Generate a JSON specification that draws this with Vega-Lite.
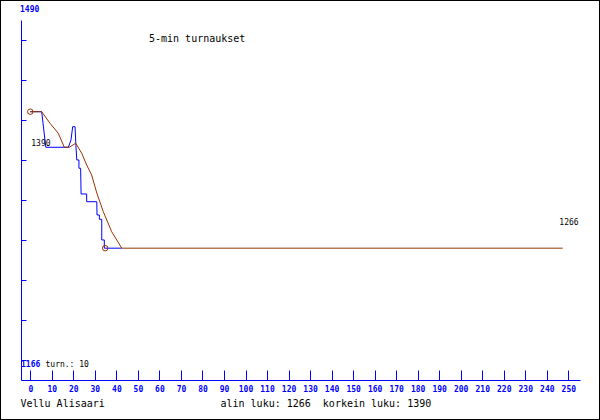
{
  "$schema": "https://vega.github.io/schema/vega-lite/v6.json",
  "width": 600,
  "height": 420,
  "autosize": "none",
  "padding": 0,
  "background": "white",
  "config": {"view": {"stroke": "black", "strokeWidth": 2}, "font": "DejaVu Sans Mono"},
  "title": {"text": "5-min turnaukset", "anchor": "start", "frame": "group", "dx": 149, "offset": -44, "font": "DejaVu Sans Mono", "fontSize": 10, "fontWeight": "normal", "color": "black"},
  "datasets": {
    "sarjat": [
      {"sarja": "tulos", "n": 1, "turnaus": 0, "luku": 1433.7},
      {"sarja": "tulos", "n": 2, "turnaus": 5.3, "luku": 1433.7},
      {"sarja": "tulos", "n": 3, "turnaus": 7.2, "luku": 1390},
      {"sarja": "tulos", "n": 4, "turnaus": 17.7, "luku": 1390},
      {"sarja": "tulos", "n": 5, "turnaus": 18.9, "luku": 1399},
      {"sarja": "tulos", "n": 6, "turnaus": 19.7, "luku": 1415.3},
      {"sarja": "tulos", "n": 7, "turnaus": 20.8, "luku": 1415.3},
      {"sarja": "tulos", "n": 8, "turnaus": 21.2, "luku": 1392},
      {"sarja": "tulos", "n": 9, "turnaus": 21.6, "luku": 1374.4},
      {"sarja": "tulos", "n": 10, "turnaus": 22.6, "luku": 1374.4},
      {"sarja": "tulos", "n": 11, "turnaus": 22.6, "luku": 1364.2},
      {"sarja": "tulos", "n": 12, "turnaus": 23.4, "luku": 1364.2},
      {"sarja": "tulos", "n": 13, "turnaus": 23.6, "luku": 1332.6},
      {"sarja": "tulos", "n": 14, "turnaus": 26.2, "luku": 1332.6},
      {"sarja": "tulos", "n": 15, "turnaus": 26.2, "luku": 1323.1},
      {"sarja": "tulos", "n": 16, "turnaus": 30.9, "luku": 1323.1},
      {"sarja": "tulos", "n": 17, "turnaus": 31.0, "luku": 1306.8},
      {"sarja": "tulos", "n": 18, "turnaus": 32.1, "luku": 1306.8},
      {"sarja": "tulos", "n": 19, "turnaus": 32.1, "luku": 1301.5},
      {"sarja": "tulos", "n": 20, "turnaus": 33.2, "luku": 1301.5},
      {"sarja": "tulos", "n": 21, "turnaus": 33.2, "luku": 1276.1},
      {"sarja": "tulos", "n": 22, "turnaus": 34.4, "luku": 1276.1},
      {"sarja": "tulos", "n": 23, "turnaus": 34.4, "luku": 1266},
      {"sarja": "tulos", "n": 24, "turnaus": 42.5, "luku": 1266},
      {"sarja": "keskiarvo", "n": 1, "turnaus": 0, "luku": 1433.7},
      {"sarja": "keskiarvo", "n": 2, "turnaus": 5.3, "luku": 1433.7},
      {"sarja": "keskiarvo", "n": 3, "turnaus": 9.15, "luku": 1419.5},
      {"sarja": "keskiarvo", "n": 4, "turnaus": 13.0, "luku": 1407.2},
      {"sarja": "keskiarvo", "n": 5, "turnaus": 15.8, "luku": 1390},
      {"sarja": "keskiarvo", "n": 6, "turnaus": 18.1, "luku": 1390},
      {"sarja": "keskiarvo", "n": 7, "turnaus": 21.1, "luku": 1394.9},
      {"sarja": "keskiarvo", "n": 8, "turnaus": 23.9, "luku": 1382.6},
      {"sarja": "keskiarvo", "n": 9, "turnaus": 26.2, "luku": 1368.2},
      {"sarja": "keskiarvo", "n": 10, "turnaus": 28.5, "luku": 1356.0},
      {"sarja": "keskiarvo", "n": 11, "turnaus": 30.9, "luku": 1333.8},
      {"sarja": "keskiarvo", "n": 12, "turnaus": 33.9, "luku": 1310.9},
      {"sarja": "keskiarvo", "n": 13, "turnaus": 37.8, "luku": 1286.3},
      {"sarja": "keskiarvo", "n": 14, "turnaus": 42.5, "luku": 1266},
      {"sarja": "keskiarvo", "n": 15, "turnaus": 247.4, "luku": 1266}
    ],
    "ympyrat": [
      {"turnaus": 0, "luku": 1433.7},
      {"turnaus": 34.8, "luku": 1266}
    ]
  },
  "resolve": {"axis": {"x": "independent", "y": "independent"}},
  "layer": [
    {
      "data": {"name": "sarjat"},
      "mark": {"type": "line", "strokeWidth": 1},
      "encoding": {
        "x": {
          "field": "turnaus", "type": "quantitative",
          "scale": {"domain": [-4.32, 255.43], "range": [21, 580], "nice": false, "zero": false},
          "axis": {
            "orient": "bottom", "offset": -40, "grid": false,
            "values": [0,10,20,30,40,50,60,70,80,90,100,110,120,130,140,150,160,170,180,190,200,210,220,230,240,250],
            "domainColor": "#0000ff", "domainWidth": 1,
            "tickColor": "#0000ff", "tickSize": -10, "tickWidth": 1,
            "labelColor": "#0000ff", "labelFont": "DejaVu Sans Mono", "labelFontSize": 8, "labelFontWeight": "bold",
            "labelPadding": 15, "labelFlush": false, "labelOverlap": false,
            "title": "alin luku: 1266\u00a0 korkein luku: 1390",
            "titleX": 220, "titleY": 23, "titleAlign": "left", "titleBaseline": "middle",
            "titleFont": "DejaVu Sans Mono", "titleFontSize": 10, "titleFontWeight": "normal", "titleColor": "black"
          }
        },
        "y": {
          "field": "luku", "type": "quantitative",
          "scale": {"domain": [1104.0, 1546.4], "range": [380, 20], "nice": false, "zero": false},
          "axis": {
            "orient": "left", "offset": -21, "grid": false,
            "values": [1521.9, 1472.7, 1423.5, 1374.4, 1325.2, 1276.1, 1226.9, 1177.8, 1128.6],
            "labels": false,
            "domainColor": "#0000ff", "domainWidth": 1,
            "tickColor": "#0000ff", "tickSize": -5, "tickWidth": 1,
            "title": "1490", "titleAngle": 0, "titleX": -1.5, "titleY": 9,
            "titleAlign": "left", "titleBaseline": "middle",
            "titleFont": "DejaVu Sans Mono", "titleFontSize": 8, "titleFontWeight": "bold", "titleColor": "#0000ff"
          }
        },
        "color": {"field": "sarja", "type": "nominal", "scale": {"domain": ["tulos", "keskiarvo"], "range": ["#0000ff", "#993300"]}, "legend": null},
        "order": {"field": "n", "type": "quantitative"}
      }
    },
    {
      "data": {"name": "ympyrat"},
      "mark": {"type": "point", "shape": "circle", "filled": false, "size": 30, "color": "#993300", "strokeWidth": 1, "opacity": 1},
      "encoding": {
        "x": {
          "field": "turnaus", "type": "quantitative",
          "scale": {"domain": [-4.32, 255.43], "range": [21, 580], "nice": false, "zero": false},
          "axis": {
            "orient": "bottom", "offset": -40, "grid": false, "domain": false, "ticks": false, "labels": false,
            "title": "Vellu Alisaari", "titleX": 20, "titleY": 23, "titleAlign": "left", "titleBaseline": "middle",
            "titleFont": "DejaVu Sans Mono", "titleFontSize": 10, "titleFontWeight": "normal", "titleColor": "black"
          }
        },
        "y": {
          "field": "luku", "type": "quantitative",
          "scale": {"domain": [1104.0, 1546.4], "range": [380, 20], "nice": false, "zero": false},
          "axis": {
            "orient": "left", "offset": -21, "grid": false, "domain": false, "ticks": false, "labels": false,
            "title": "1166", "titleAngle": 0, "titleX": -0.5, "titleY": 364,
            "titleAlign": "left", "titleBaseline": "middle",
            "titleFont": "DejaVu Sans Mono", "titleFontSize": 8, "titleFontWeight": "bold", "titleColor": "#0000ff"
          }
        }
      }
    },
    {
      "data": {"values": [{"turnaus": 0, "luku": 1390}]},
      "mark": {"type": "text", "align": "left", "baseline": "alphabetic", "dx": 1, "dy": -1.3, "font": "DejaVu Sans Mono", "fontSize": 8, "color": "black"},
      "encoding": {
        "x": {"field": "turnaus", "type": "quantitative", "scale": {"domain": [-4.32, 255.43], "range": [21, 580], "nice": false, "zero": false}, "axis": null},
        "y": {
          "field": "luku", "type": "quantitative",
          "scale": {"domain": [1104.0, 1546.4], "range": [380, 20], "nice": false, "zero": false},
          "axis": {
            "orient": "left", "offset": -21, "grid": false, "domain": false, "ticks": false, "labels": false,
            "title": "turn.: 10", "titleAngle": 0, "titleX": 24, "titleY": 364,
            "titleAlign": "left", "titleBaseline": "middle",
            "titleFont": "DejaVu Sans Mono", "titleFontSize": 8, "titleFontWeight": "normal", "titleColor": "black"
          }
        },
        "text": {"field": "luku", "type": "quantitative", "format": "d"}
      }
    },
    {
      "data": {"values": [{"turnaus": 247.4, "luku": 1266}]},
      "mark": {"type": "text", "align": "left", "baseline": "alphabetic", "dx": -3.4, "dy": -23.5, "font": "DejaVu Sans Mono", "fontSize": 8, "color": "black"},
      "encoding": {
        "x": {"field": "turnaus", "type": "quantitative", "scale": {"domain": [-4.32, 255.43], "range": [21, 580], "nice": false, "zero": false}, "axis": null},
        "y": {"field": "luku", "type": "quantitative", "scale": {"domain": [1104.0, 1546.4], "range": [380, 20], "nice": false, "zero": false}, "axis": null},
        "text": {"field": "luku", "type": "quantitative", "format": "d"}
      }
    }
  ]
}
